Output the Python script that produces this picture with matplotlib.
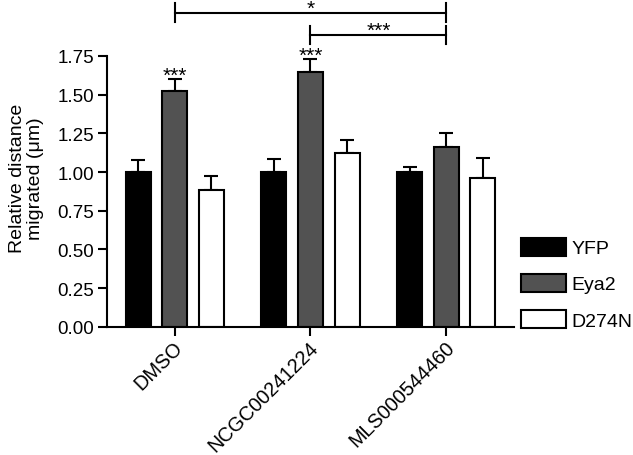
import numpy as np
import matplotlib
matplotlib.use('Agg')
import matplotlib.pyplot as plt
from matplotlib.transforms import ScaledTranslation

plt.rcParams['font.family'] = ['Liberation Sans', 'DejaVu Sans']

# datos
grupos = ['DMSO', 'NCGC00241224', 'MLS000544460']
series = ['YFP', 'Eya2', 'D274N']
yfp = [1.00, 1.00, 1.00]
eya2 = [1.525, 1.645, 1.16]
d274n = [0.885, 1.12, 0.96]
yfp_err = [0.075, 0.085, 0.03]
eya2_err = [0.075, 0.085, 0.09]
d274n_err = [0.09, 0.085, 0.13]
colores = ['#000000', '#525252', '#ffffff']
estrellas_eya2 = ['***', '***', '']
# comparaciones entre grupos (barras Eya2)
comparaciones = [(0, 2, 2.03, '*'), (1, 2, 1.885, '***')]

valores = [yfp, eya2, d274n]
errores = [yfp_err, eya2_err, d274n_err]

fig = plt.figure(figsize=(6.33, 4.56), dpi=100)
ax = fig.add_axes([0.169, 0.2814, 0.643, 0.5936])

x = np.arange(len(grupos))
ancho = 0.185
desp = 0.27
for i in range(3):
    ax.bar(x + (i - 1) * desp, valores[i], ancho, color=colores[i],
           edgecolor='black', linewidth=1.5, label=series[i], zorder=2)
    ax.errorbar(x + (i - 1) * desp, valores[i], yerr=[np.zeros(3), errores[i]],
                fmt='none', ecolor='black', elinewidth=1.5, capsize=5,
                capthick=1.5, zorder=1)

# estrellas sobre Eya2
for j in range(3):
    if estrellas_eya2[j]:
        ax.text(x[j], eya2[j] + eya2_err[j] - 0.035, estrellas_eya2[j],
                ha='center', va='bottom', fontsize=15)

# corchetes de significancia
for a, b, h, txt in comparaciones:
    xa, xb = x[a], x[b]
    ax.plot([xa, xb], [h, h], color='black', lw=1.5, clip_on=False)
    ax.plot([xa, xa], [h - 0.06, h + 0.06], color='black', lw=1.5, clip_on=False)
    ax.plot([xb, xb], [h - 0.06, h + 0.06], color='black', lw=1.5, clip_on=False)
    ax.text((xa + xb) / 2, h - 0.03, txt, ha='center', va='bottom', fontsize=15)

ax.set_xlim(-0.5, 2.5)
ax.set_ylim(0, 1.75)
ax.set_yticks(np.arange(0, 1.76, 0.25))
ax.set_yticklabels(['%.2f' % v for v in np.arange(0, 1.76, 0.25)], fontsize=13.5)
ax.set_xticks(x)
ax.set_xticklabels([])
# etiquetas de grupo giradas, ancladas por el final de la linea base
desplaza = ScaledTranslation(6.5 / 72, -15.5 / 72, fig.dpi_scale_trans)
for j in range(len(grupos)):
    ax.text(x[j], 0, grupos[j], rotation=45, rotation_mode='anchor',
            ha='right', va='baseline', fontsize=14.3,
            transform=ax.get_xaxis_transform() + desplaza)
ax.tick_params(axis='both', direction='out', length=6.5, width=1.5, pad=2.5)
ax.spines['top'].set_visible(False)
ax.spines['right'].set_visible(False)
ax.spines['left'].set_linewidth(1.5)
ax.spines['bottom'].set_linewidth(1.5)
ax.set_ylabel('Relative distance\nmigrated (\u03bcm)', fontsize=14, linespacing=1.05)
ax.yaxis.set_label_coords(-0.155, 0.55)

ax.legend(loc='center left', bbox_to_anchor=(0.823, 0.376), bbox_transform=fig.transFigure,
          frameon=False, fontsize=14, handlelength=2.3, handleheight=1.05,
          labelspacing=0.85, handletextpad=0.3, borderaxespad=0, borderpad=0)

plt.savefig('out.png', dpi=100)
